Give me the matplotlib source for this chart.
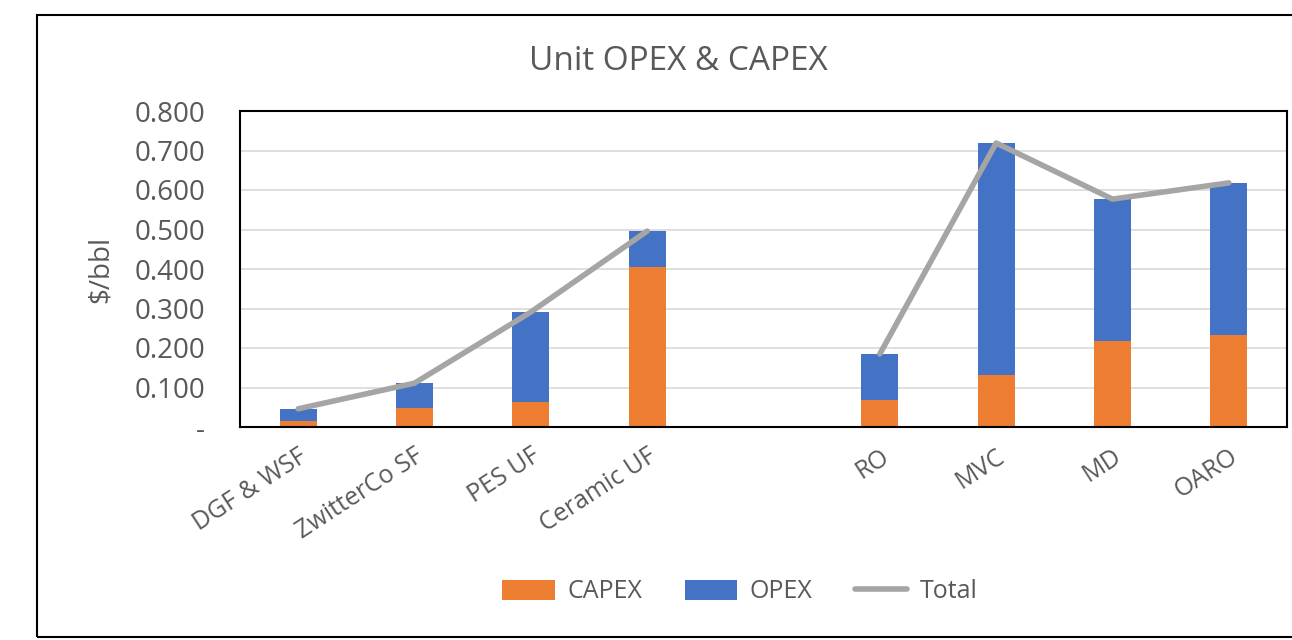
import matplotlib.pyplot as plt
from matplotlib.patches import Rectangle
from matplotlib.ticker import FuncFormatter
import numpy as np

plt.rcParams['font.family'] = ['Open Sans', 'DejaVu Sans']

categories = ['DGF & WSF', 'ZwitterCo SF', 'PES UF', 'Ceramic UF', '',
              'RO', 'MVC', 'MD', 'OARO']
capex = [0.015, 0.048, 0.063, 0.405, np.nan, 0.068, 0.132, 0.218, 0.233]
opex = [0.031, 0.063, 0.228, 0.091, np.nan, 0.117, 0.587, 0.359, 0.385]
total = [0.046, 0.111, 0.291, 0.496, np.nan, 0.185, 0.719, 0.577, 0.618]

c_capex = '#ED7D31'
c_opex = '#4472C4'
c_total = '#A5A5A5'
grey = '#595959'

fig = plt.figure(figsize=(12.92, 6.4), dpi=100)
ax = fig.add_axes([240/1292, 1-427/640, 1047/1292, 316/640])

# outer chart border
fig.patches.append(Rectangle((37/1292, 3/640), 1.0, 622/640, transform=fig.transFigure,
                             fill=False, edgecolor='black', linewidth=1.5))

x = np.arange(len(categories))
w = 0.32
b1 = ax.bar(x, capex, w, color=c_capex, label='CAPEX', zorder=2)
b2 = ax.bar(x, opex, w, bottom=capex, color=c_opex, label='OPEX', zorder=2)
l1, = ax.plot(x, total, color=c_total, linewidth=4, label='Total', zorder=3,
              solid_capstyle='round')

ax.set_xlim(-0.5, len(categories) - 0.5)
ax.set_ylim(0, 0.8)
ax.set_yticks(np.arange(0, 0.81, 0.1))
ax.yaxis.set_major_formatter(FuncFormatter(lambda v, p: '-' if abs(v) < 1e-9 else f'{v:.3f}'))
ax.grid(axis='y', color='#D9D9D9', linewidth=1.2, zorder=0)
ax.set_axisbelow(True)
for s in ax.spines.values():
    s.set_color('black')
    s.set_linewidth(1.5)
ax.tick_params(axis='both', length=0, colors=grey)
ax.tick_params(axis='y', pad=25, labelsize=20)
ax.tick_params(axis='x', pad=12, labelsize=18)
ax.set_xticks(x)
ax.set_xticklabels(categories, rotation=33, ha='right', rotation_mode='anchor')
ax.set_ylabel('$/bbl', color=grey, fontsize=20, labelpad=14)

fig.text(678/1292, 1-62/640, 'Unit OPEX & CAPEX', ha='center', va='center',
         fontsize=24, color=grey)

fig.legend([b1, b2, l1], ['CAPEX', 'OPEX', 'Total'], loc='center',
           bbox_to_anchor=(740/1292, 1-592/640), ncol=3, frameon=False,
           fontsize=18, labelcolor=grey, handlelength=2.1, handleheight=0.9,
           columnspacing=1.7, handletextpad=0.5)

fig.savefig('out.png', dpi=100)
